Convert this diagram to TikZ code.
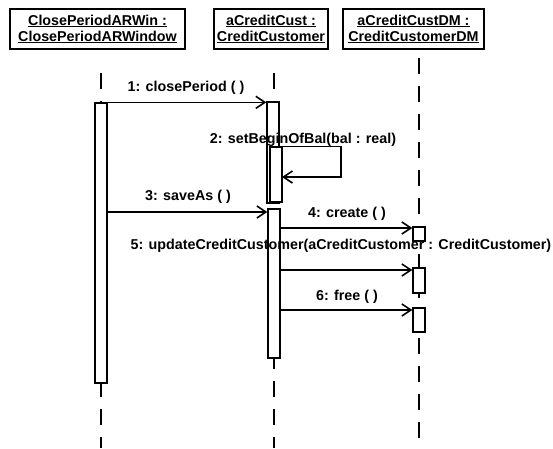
\documentclass[tikz,border=0pt]{standalone}
\usepackage{fontspec}
\setmainfont{Liberation Sans}
\usetikzlibrary{arrows.meta}
\tikzset{
  objbox/.style={draw,line width=1.5pt,minimum height=40pt,inner sep=0pt,align=center,
    font=\bfseries\fontsize{14.3}{16}\selectfont},
  actbar/.style={draw,fill=white,line width=1.4pt,minimum width=12pt,inner sep=0pt},
  lifeline/.style={line width=1.4pt,dash pattern=on 16pt off 12pt},
  msg/.style={-{Straight Barb[length=9pt,width=12pt]},line width=1.6pt},
  msglabel/.style={inner sep=0pt,font=\bfseries\fontsize{14.3}{16}\selectfont},
}

\begin{document}
\begin{tikzpicture}[x=1pt,y=-1pt]
  \useasboundingbox (0,0) rectangle (553,448);
  % 对象
  \node[objbox,minimum width=175pt] (win) at (97.5,29) {\underline{ClosePeriodARWin :}\\\underline{ClosePeriodARWindow}};
  \node[objbox,minimum width=114pt] (cust) at (271,29) {\underline{aCreditCust :}\\\underline{CreditCustomer}};
  \node[objbox,minimum width=141pt] (custDM) at (413.5,29) {\underline{aCreditCustDM :}\\\underline{CreditCustomerDM}};
  % 生命线
  \coordinate (winTop) at (101,73);   \coordinate (winEnd) at (101,448);
  \coordinate (custTop) at (274,73);  \coordinate (custEnd) at (274,448);
  \coordinate (dmTop) at (419,58);    \coordinate (dmEnd) at (419,448);
  \draw[lifeline] (winTop) -- (winEnd);
  \draw[lifeline] (custTop) -- (custEnd);
  \draw[lifeline] (dmTop) -- (dmEnd);
  % 激活条
  \node[actbar,minimum height=280pt] (act1) at (101,243) {};
  \node[actbar,minimum height=101pt] (act2a) at (273,152.5) {};
  \node[actbar,minimum height=55pt] (act2n) at (276,174.5) {};
  \node[actbar,minimum height=149pt] (act2b) at (274,283.5) {};
  \node[actbar,minimum height=14pt] (act3a) at (419,234) {};
  \node[actbar,minimum height=25pt] (act3b) at (419,280.5) {};
  \node[actbar,minimum height=24pt] (act3c) at (419,320) {};
  % 消息
  \coordinate (m3) at (0,212);
  \coordinate (m4) at (0,228);
  \coordinate (m5) at (0,270);
  \coordinate (m6) at (0,310);
  \coordinate (selfRet) at (282,177);
  \draw[msg] (act1.north east) -- (act2a.west |- act1.north east);
  \draw[msg] (act2n.north east) -- ++(58,0) |- (selfRet);
  \draw[msg] (act1.east |- m3) -- (act2b.west |- m3);
  \draw[msg] (act2b.east |- m4) -- (act3a.west |- m4);
  \draw[msg] (act2b.east |- m5) -- (act3b.west |- m5);
  \draw[msg] (act2b.east |- m6) -- (act3c.west |- m6);
  % 消息文字
  \node[msglabel] (l1) at (186,88) {1: closePeriod ( )};
  \node[msglabel] (l2) at (303,140) {2: setBeginOfBal(bal : real)};
  \node[msglabel] (l3) at (188,197) {3: saveAs ( )};
  \node[msglabel] (l4) at (347,214) {4: create ( )};
  \node[msglabel] (l5) at (341,246) {5: updateCreditCustomer(aCreditCustomer : CreditCustomer)};
  \node[msglabel] (l6) at (347,297) {6: free ( )};
\end{tikzpicture}
\end{document}
